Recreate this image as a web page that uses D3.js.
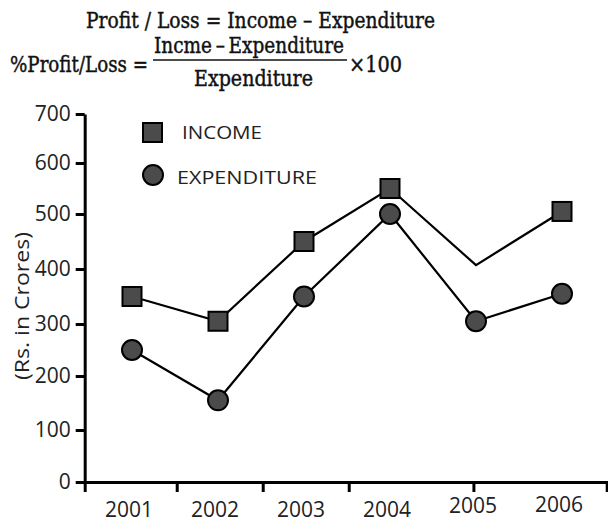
<!DOCTYPE html>
<html>
<head>
<meta charset="utf-8">
<script src="https://cdn.jsdelivr.net/npm/d3@7"></script>
<style>
  html, body { margin: 0; padding: 0; background: #fff; }
  svg { display: block; }
</style>
</head>
<body>
<svg id="chart" width="608" height="522"></svg>
<script>
// ---- data ----
const years = [2001, 2002, 2003, 2004, 2005, 2006];
const income = [350, 305, 450, 550, 407, 505];
const expenditure = [250, 155, 350, 500, 305, 355];
const incomeMarkerShown = [true, true, true, true, false, true];
const yTicks = [0, 100, 200, 300, 400, 500, 600, 700];
const xTickBreaks = [2001.52, 2002.52, 2003.52, 2004.97, 2006.52];
const seriesNames = ["INCOME", "EXPENDITURE"];
const yAxisTitle = "(Rs. in Crores)";
const titleLine1 = "Profit / Loss = Income \u2013 Expenditure";
const formulaLeft = "%Profit/Loss =";
const formulaNumerator = "Incme\u2009\u2013\u2009Expenditure";
const formulaDenominator = "Expenditure";
const formulaRight = "\u00d7100";

// ---- drawing ----
const svg = d3.select("#chart");
const sans = "'Open Sans', 'Noto Sans', sans-serif";
const serif = "'DejaVu Serif', 'Liberation Serif', serif";
const markerFill = "#4b4b4b";

// y scale: follows the (slightly uneven) printed tick positions
const y = d3.scaleLinear()
  .domain(yTicks)
  .range([482, 430, 376, 324, 269, 214, 163, 114]);
const x = d3.scaleLinear().domain([2001, 2006]).range([132, 562]);
const xAxisStart = 2000.45;

function serifText(str, px, py, len) {
  return svg.append("text")
    .attr("x", px).attr("y", py)
    .attr("font-family", serif).attr("font-size", 22)
    .attr("fill", "#111").attr("stroke", "#111").attr("stroke-width", 0.45)
    .attr("textLength", len).attr("lengthAdjust", "spacingAndGlyphs")
    .text(str);
}

// Title / formula
serifText(titleLine1, 86, 28, 349);
serifText(formulaLeft, 10, 72, 138);
serifText(formulaNumerator, 154, 53, 190);
svg.append("line")
  .attr("x1", 153).attr("x2", 347).attr("y1", 60).attr("y2", 60)
  .attr("stroke", "#111").attr("stroke-width", 1.6);
serifText(formulaDenominator, 194, 86, 119);
serifText(formulaRight, 349, 72, 53);

// Y axis
const yAxis = svg.append("g")
  .attr("transform", `translate(${x(xAxisStart)},0)`)
  .call(d3.axisLeft(y).tickValues(yTicks).tickSize(9).tickSizeOuter(0).tickPadding(5).tickFormat(d3.format("d")));
yAxis.select(".domain").attr("stroke", "#000").attr("stroke-width", 3);
yAxis.selectAll(".tick line").attr("stroke", "#000").attr("stroke-width", 3);
yAxis.selectAll(".tick text")
  .attr("font-family", sans).attr("font-size", 21).attr("fill", "#222");

// X axis line + break ticks
const xAxisScale = d3.scaleLinear().domain([xAxisStart, 2006.53]).range([x(xAxisStart), x(2006.53)]);
const xAxis = svg.append("g")
  .attr("transform", `translate(0,${y(0)})`)
  .call(d3.axisBottom(xAxisScale).tickValues([xAxisStart].concat(xTickBreaks)).tickSize(10).tickSizeOuter(0).tickFormat(""));
xAxis.select(".domain").attr("stroke", "#000").attr("stroke-width", 3);
xAxis.selectAll(".tick line").attr("stroke", "#000").attr("stroke-width", 3);

// X labels
const labelLift = {2005: 4, 2006: 5};
svg.append("g").selectAll("text")
  .data(years).join("text")
  .attr("x", d => x(d) - 3)
  .attr("y", d => 517 - (labelLift[d] || 0))
  .attr("text-anchor", "middle")
  .attr("font-family", sans).attr("font-size", 21).attr("fill", "#222")
  .text(d => d);

// Y axis title
svg.append("text")
  .attr("transform", "translate(29,306) rotate(-90)")
  .attr("text-anchor", "middle")
  .attr("font-family", sans).attr("font-size", 20).attr("fill", "#222")
  .attr("textLength", 148).attr("lengthAdjust", "spacingAndGlyphs")
  .text(yAxisTitle);

// Lines
const line = d3.line().x((d, i) => x(years[i])).y(d => y(d));
svg.append("path").datum(income).attr("d", line)
  .attr("fill", "none").attr("stroke", "#000").attr("stroke-width", 2.2);
svg.append("path").datum(expenditure).attr("d", line)
  .attr("fill", "none").attr("stroke", "#000").attr("stroke-width", 2.2);

// Markers
const sq = 19;
svg.append("g").selectAll("rect")
  .data(income.map((v, i) => ({v, i})).filter(d => incomeMarkerShown[d.i]))
  .join("rect")
  .attr("x", d => x(years[d.i]) - sq / 2)
  .attr("y", d => y(d.v) - sq / 2)
  .attr("width", sq).attr("height", sq)
  .attr("fill", markerFill).attr("stroke", "#000").attr("stroke-width", 2);

svg.append("g").selectAll("circle")
  .data(expenditure)
  .join("circle")
  .attr("cx", (d, i) => x(years[i]))
  .attr("cy", d => y(d))
  .attr("r", 10)
  .attr("fill", markerFill).attr("stroke", "#000").attr("stroke-width", 2);

// Legend
svg.append("rect")
  .attr("x", 143).attr("y", 123).attr("width", sq).attr("height", sq)
  .attr("fill", markerFill).attr("stroke", "#000").attr("stroke-width", 2);
svg.append("circle")
  .attr("cx", 153).attr("cy", 175).attr("r", 10)
  .attr("fill", markerFill).attr("stroke", "#000").attr("stroke-width", 2);
svg.append("text")
  .attr("x", 182).attr("y", 139)
  .attr("font-family", sans).attr("font-size", 19).attr("fill", "#222")
  .attr("textLength", 80).attr("lengthAdjust", "spacingAndGlyphs")
  .text(seriesNames[0]);
svg.append("text")
  .attr("x", 177).attr("y", 184)
  .attr("font-family", sans).attr("font-size", 19).attr("fill", "#222")
  .attr("textLength", 140).attr("lengthAdjust", "spacingAndGlyphs")
  .text(seriesNames[1]);
</script>
</body>
</html>
